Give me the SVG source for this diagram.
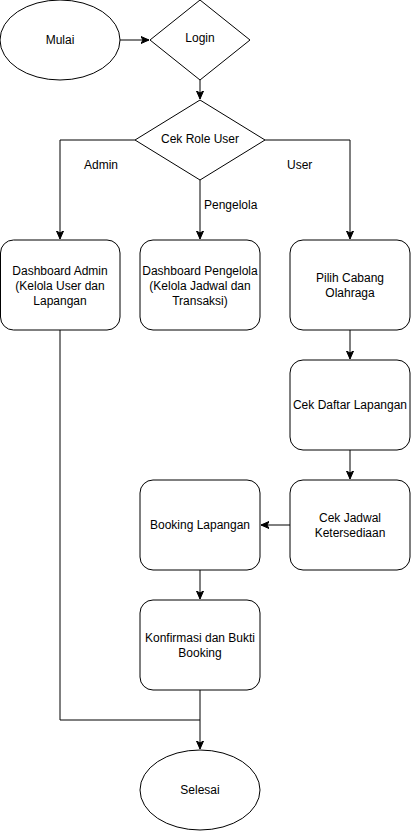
<svg xmlns="http://www.w3.org/2000/svg" width="411" height="831" viewBox="0 0 411 831">
<style>
.n{fill:#fff;stroke:#000;stroke-width:1}
.t{font-family:"Liberation Sans",Arial,sans-serif;font-size:12px;fill:#000;text-anchor:middle}
.l{font-family:"Liberation Sans",Arial,sans-serif;font-size:12px;fill:#000}
.e{fill:none;stroke:#000;stroke-width:1}
</style>
<defs>
<marker id="a" markerWidth="10" markerHeight="10" refX="8" refY="4" orient="auto" markerUnits="userSpaceOnUse">
<path d="M0,0.5 L8,4 L0,7.5 L2,4 Z" fill="#000" stroke="#000" stroke-width="1"/>
</marker>
</defs>
<rect width="411" height="831" fill="#fff"/>
<g id="connectors">
<path class="e" d="M120,40 H149" marker-end="url(#a)"/>
<path class="e" d="M200,80 V99" marker-end="url(#a)"/>
<path class="e" d="M135,140 H60 V239" marker-end="url(#a)"/>
<path class="e" d="M200,180 V239" marker-end="url(#a)"/>
<path class="e" d="M265,140 H350 V239" marker-end="url(#a)"/>
<path class="e" d="M350,330 V359" marker-end="url(#a)"/>
<path class="e" d="M350,450 V479" marker-end="url(#a)"/>
<path class="e" d="M290,525 H261" marker-end="url(#a)"/>
<path class="e" d="M200,570 V599" marker-end="url(#a)"/>
<path class="e" d="M200,690 V749" marker-end="url(#a)"/>
<path class="e" d="M60,330 V720 H200"/>
<text class="l" x="84" y="169">Admin</text>
<text class="l" x="204" y="209">Pengelola</text>
<text class="l" x="287" y="169">User</text>
</g>
<g id="mulai"><ellipse class="n" cx="60" cy="40" rx="60" ry="40"/><text class="t" x="60" y="44">Mulai</text></g>
<g id="login"><path class="n" d="M200,0 L250,40 L200,80 L150,40 Z"/><text class="t" x="200" y="42">Login</text></g>
<g id="cekrole"><path class="n" d="M200,100 L265,140 L200,180 L135,140 Z"/><text class="t" x="200" y="143">Cek Role User</text></g>
<g id="admin"><rect class="n" x="0.5" y="240" width="119.5" height="90" rx="13"/><text class="t" x="60" y="275">Dashboard Admin</text><text class="t" x="60" y="290">(Kelola User dan</text><text class="t" x="60" y="305">Lapangan</text></g>
<g id="pengelola"><rect class="n" x="140" y="240" width="120" height="90" rx="13"/><text class="t" x="200" y="275">Dashboard Pengelola</text><text class="t" x="200" y="290">(Kelola Jadwal dan</text><text class="t" x="200" y="305">Transaksi)</text></g>
<g id="pilih"><rect class="n" x="290" y="240" width="120" height="90" rx="13"/><text class="t" x="350" y="282">Pilih Cabang</text><text class="t" x="350" y="297">Olahraga</text></g>
<g id="daftar"><rect class="n" x="290" y="360" width="120" height="90" rx="13"/><text class="t" x="350" y="409">Cek Daftar Lapangan</text></g>
<g id="jadwal"><rect class="n" x="290" y="480" width="120" height="90" rx="13"/><text class="t" x="350" y="522">Cek Jadwal</text><text class="t" x="350" y="537">Ketersediaan</text></g>
<g id="booking"><rect class="n" x="140" y="480" width="120" height="90" rx="13"/><text class="t" x="200" y="529">Booking Lapangan</text></g>
<g id="konfirmasi"><rect class="n" x="140" y="600" width="120" height="90" rx="13"/><text class="t" x="200" y="642">Konfirmasi dan Bukti</text><text class="t" x="200" y="657">Booking</text></g>
<g id="selesai"><ellipse class="n" cx="200" cy="790" rx="60" ry="40"/><text class="t" x="200" y="794">Selesai</text></g>
</svg>
